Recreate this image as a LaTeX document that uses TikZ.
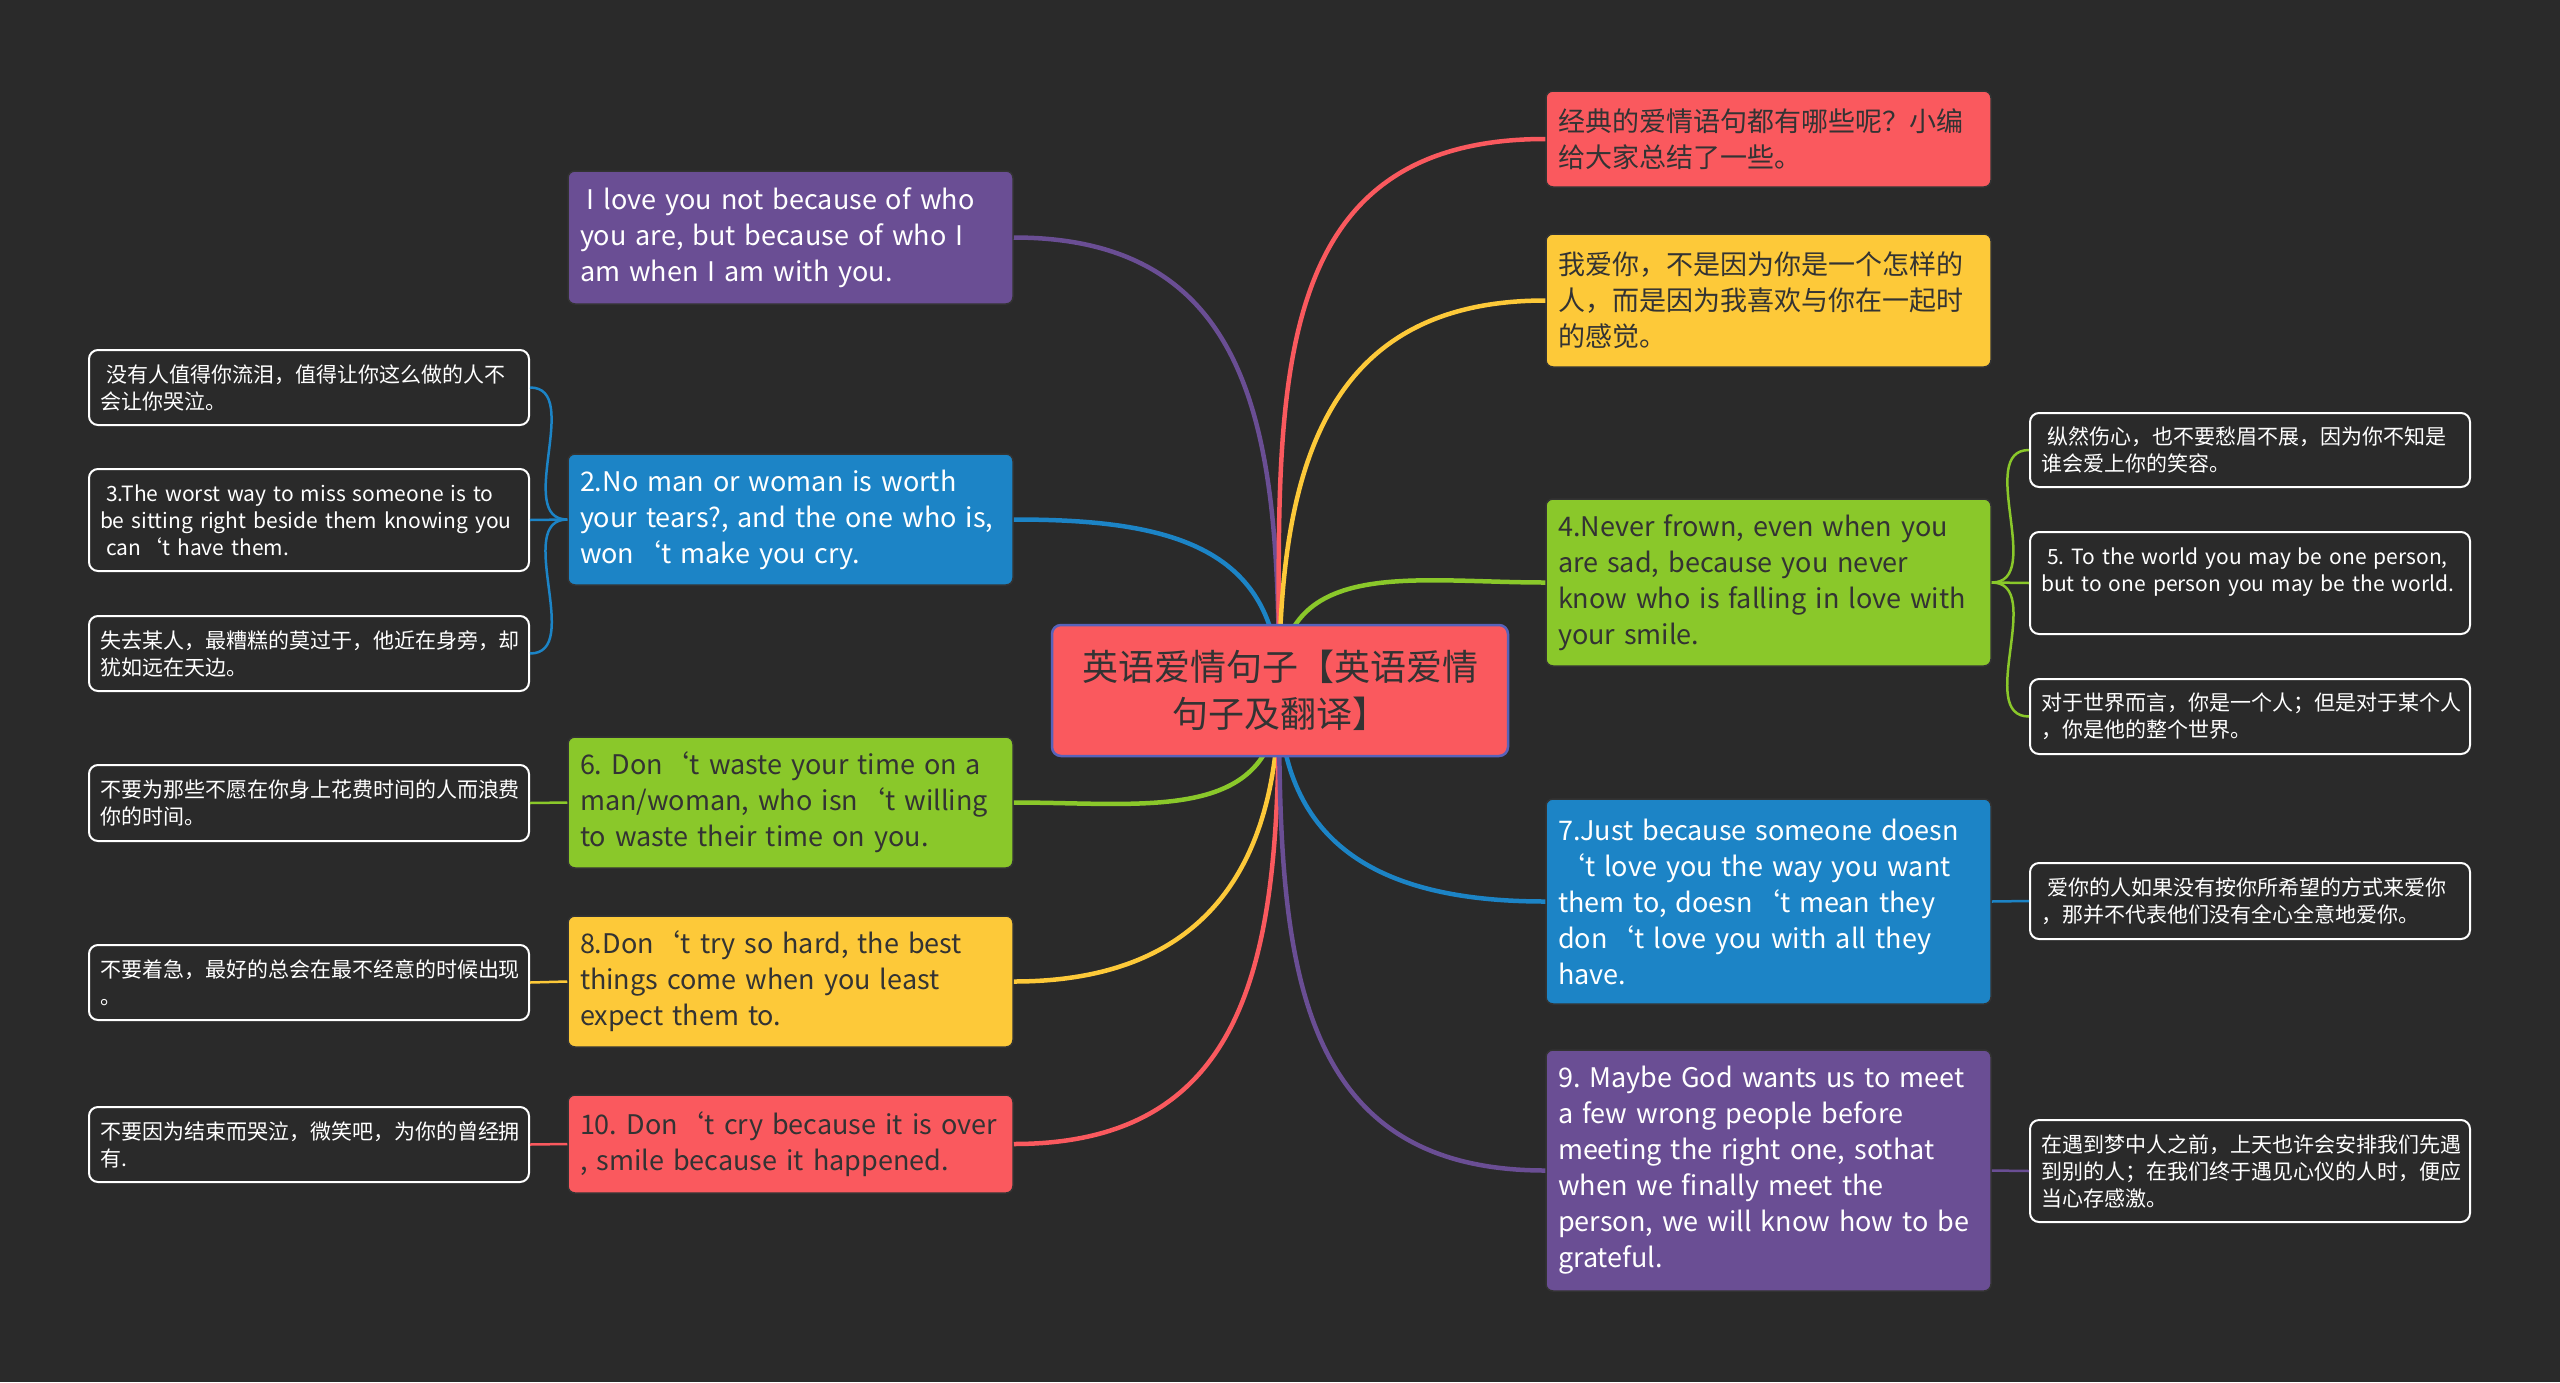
\documentclass[tikz,border=0pt]{standalone}
\usepackage{fontspec}
\setmainfont{Noto Sans CJK SC}
\usepackage{tikz}
\usetikzlibrary{positioning,calc}
\frenchspacing

\definecolor{bgc}{RGB}{42,42,42}
\definecolor{cred}{RGB}{250,89,94}
\definecolor{cyellow}{RGB}{253,201,57}
\definecolor{cgreen}{RGB}{138,200,42}
\definecolor{cblue}{RGB}{28,132,198}
\definecolor{cpurple}{RGB}{106,78,148}
\definecolor{chub}{RGB}{88,98,186}
\definecolor{darktext}{RGB}{51,51,51}

\tikzset{
  main/.style={rounded corners=7pt, draw=black!80, line width=1.5pt,
    text width=421pt, align=left, inner xsep=12pt, inner ysep=0pt,
    font=\fontsize{27}{36}\selectfont},
  leaf/.style={rounded corners=9pt, draw=white, line width=2pt, fill=bgc,
    text width=418pt, align=left, inner xsep=11pt, inner ysep=0pt,
    text=white, font=\fontsize{21}{27}\selectfont},
  hub/.style={rounded corners=9pt, draw=chub, line width=2.5pt, fill=cred,
    minimum width=456pt, minimum height=131pt, align=center,
    text=darktext, font=\fontsize{36}{47}\selectfont},
  branch/.style={line width=4.5pt},
  twig/.style={line width=2.5pt},
}

\begin{document}
\begin{tikzpicture}[x=1pt,y=-1pt]
  \useasboundingbox (0,0) rectangle (2560,1382);
  \fill[bgc] (0,0) rectangle (2560,1382);

  % Main topics on the left
  \node[main, fill=cpurple, text=white, minimum height=133pt] (pL1) at (790.5,237.5)
    {\hspace*{.25em}I love you not because of who\\you are, but because of who I\\am when I am with you.};
  \node[main, fill=cblue, text=white, minimum height=131pt] (bL2) at (790.5,519.5)
    {2.No man or woman is worth\\your tears?, and the one who is,\\won‘t make you cry.};
  \node[main, fill=cgreen, text=darktext, minimum height=131pt] (gL6) at (790.5,802.5)
    {6. Don‘t waste your time on a\\man/woman, who isn‘t willing\\to waste their time on you.};
  \node[main, fill=cyellow, text=darktext, minimum height=131pt] (yL8) at (790.5,981.5)
    {8.Don‘t try so hard, the best\\things come when you least\\expect them to.};
  \node[main, fill=cred, text=darktext, minimum height=98pt] (rL10) at (790.5,1144)
    {\mbox{10. Don‘t cry because it is over}\\, smile because it happened.};

  % Main topics on the right
  \node[main, fill=cred, text=darktext, minimum height=96pt] (rR0) at (1768.5,139)
    {经典的爱情语句都有哪些呢？小编\\给大家总结了一些。};
  \node[main, fill=cyellow, text=darktext, minimum height=133pt] (yR1) at (1768.5,300.5)
    {我爱你，不是因为你是一个怎样的\\人，而是因为我喜欢与你在一起时\\的感觉。};
  \node[main, fill=cgreen, text=darktext, minimum height=167pt] (gR4) at (1768.5,582.5)
    {4.Never frown, even when you\\are sad, because you never\\know who is falling in love with\\your smile.};
  \node[main, fill=cblue, text=white, minimum height=205pt] (bR7) at (1768.5,901.5)
    {7.Just because someone doesn\\‘t love you the way you want\\them to, doesn‘t mean they\\don‘t love you with all they\\have.};
  \node[main, fill=cpurple, text=white, minimum height=241pt] (pR9) at (1768.5,1170.5)
    {9. Maybe God wants us to meet\\a few wrong people before\\meeting the right one, sothat\\when we finally meet the\\person, we will know how to be\\grateful.};

  % Leaves on the left
  \node[leaf, minimum height=75pt] (la) at (309,387.5)
    {\hspace*{.3em}没有人值得你流泪，值得让你这么做的人不\\会让你哭泣。};
  \node[leaf, minimum height=102pt] (lb) at (309,520)
    {\hspace*{.3em}3.The worst way to miss someone is to\\be sitting right beside them knowing you\\\hspace*{.3em}can‘t have them.};
  \node[leaf, minimum height=75pt] (lc) at (309,653.5)
    {失去某人，最糟糕的莫过于，他近在身旁，却\\犹如远在天边。};
  \node[leaf, minimum height=76pt] (l6) at (309,803)
    {不要为那些不愿在你身上花费时间的人而浪费\\你的时间。};
  \node[leaf, minimum height=75pt] (l8) at (309,982.5)
    {不要着急，最好的总会在最不经意的时候出现\\。};
  \node[leaf, minimum height=75pt] (l10) at (309,1144.5)
    {不要因为结束而哭泣，微笑吧，为你的曾经拥\\有.};

  % Leaves on the right
  \node[leaf, minimum height=74pt] (ra) at (2250,450)
    {\hspace*{.3em}纵然伤心，也不要愁眉不展，因为你不知是\\谁会爱上你的笑容。};
  \node[leaf, minimum height=102pt] (rb) at (2250,583)
    {\hspace*{.3em}5. To the world you may be one person,\\but to one person you may be the world.\\\mbox{}};
  \node[leaf, minimum height=75pt] (rc) at (2250,716.5)
    {对于世界而言，你是一个人；但是对于某个人\\，你是他的整个世界。};
  \node[leaf, minimum height=76pt] (r7) at (2250,901)
    {\hspace*{.3em}爱你的人如果没有按你所希望的方式来爱你\\，那并不代表他们没有全心全意地爱你。};
  \node[leaf, minimum height=102pt] (r9) at (2250,1171)
    {在遇到梦中人之前，上天也许会安排我们先遇\\到别的人；在我们终于遇见心仪的人时，便应\\当心存感激。};

  % Branches from the centre
  \coordinate (c) at (1279,690);
  \draw[branch, cpurple] (c) to[out=90,in=0,looseness=1.2] (pL1.east);
  \draw[branch, cblue] (c) to[out=90,in=0,looseness=1.2] (bL2.east);
  \draw[branch, cred] (c) to[out=90,in=180,looseness=1.2] (rR0.west);
  \draw[branch, cyellow] (c) to[out=90,in=180,looseness=1.2] (yR1.west);
  \draw[branch, cgreen] (c) to[out=90,in=180,looseness=1.2] (gR4.west);
  \draw[branch, cgreen] (c) to[out=-90,in=0,looseness=1.2] (gL6.east);
  \draw[branch, cyellow] (c) to[out=-90,in=0,looseness=1.2] (yL8.east);
  \draw[branch, cred] (c) to[out=-90,in=0,looseness=1.2] (rL10.east);
  \draw[branch, cblue] (c) to[out=-90,in=180,looseness=1.2] (bR7.west);
  \draw[branch, cpurple] (c) to[out=-90,in=180,looseness=1.2] (pR9.west);

  \node[hub] (hub) at (1280,690.5) {英语爱情句子【英语爱情\\句子及翻译】};

  % Twigs to the leaves
  \draw[twig, cblue] (bL2.west) to[out=180,in=0] (la.east);
  \draw[twig, cblue] (bL2.west) -- (lb.east);
  \draw[twig, cblue] (bL2.west) to[out=180,in=0] (lc.east);
  \draw[twig, cgreen] (gL6.west) -- (l6.east);
  \draw[twig, cyellow] (yL8.west) -- (l8.east);
  \draw[twig, cred] (rL10.west) -- (l10.east);
  \draw[twig, cgreen] (gR4.east) to[out=0,in=180] (ra.west);
  \draw[twig, cgreen] (gR4.east) -- (rb.west);
  \draw[twig, cgreen] (gR4.east) to[out=0,in=180] (rc.west);
  \draw[twig, cblue] (bR7.east) -- (r7.west);
  \draw[twig, cpurple] (pR9.east) -- (r9.west);
\end{tikzpicture}
\end{document}
